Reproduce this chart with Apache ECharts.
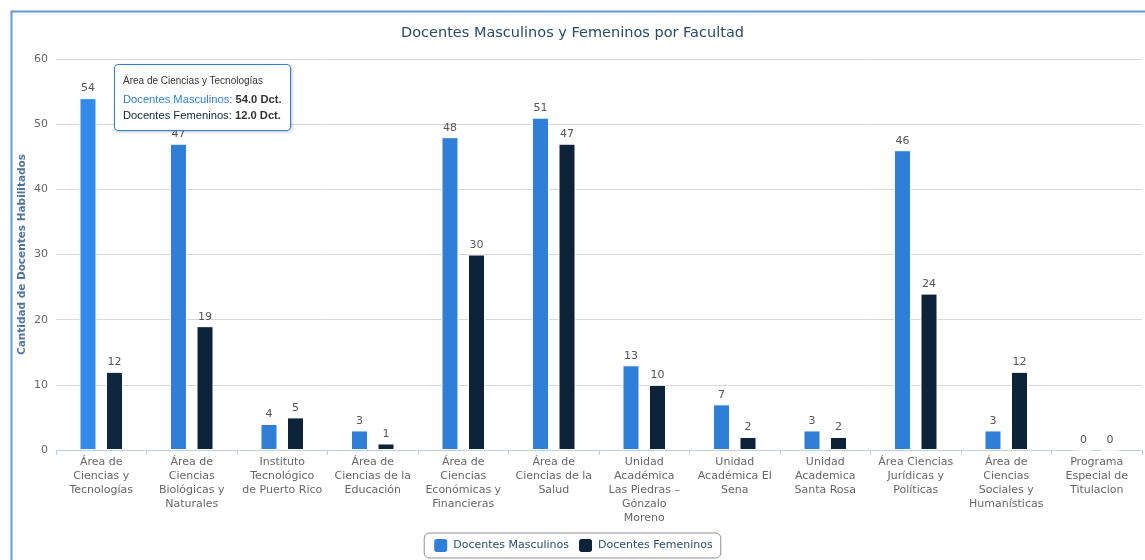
<!DOCTYPE html>
<html>
<head>
<meta charset="utf-8">
<script src="https://cdn.jsdelivr.net/npm/echarts@6/dist/echarts.min.js"></script>
<style>
  html, body { margin: 0; padding: 0; background: #fff; }
  #chart { width: 1145px; height: 560px; }
</style>
</head>
<body>
<div id="chart"></div>
<script>
// Facultades (line breaks follow the axis label wrapping)
const categories = [
  'Área de\nCiencias y\nTecnologías',
  'Área de\nCiencias\nBiológicas y\nNaturales',
  'Instituto\nTecnológico\nde Puerto Rico',
  'Área de\nCiencias de la\nEducación',
  'Área de\nCiencias\nEconómicas y\nFinancieras',
  'Área de\nCiencias de la\nSalud',
  'Unidad\nAcadémica\nLas Piedras –\nGónzalo\nMoreno',
  'Unidad\nAcadémica El\nSena',
  'Unidad\nAcademica\nSanta Rosa',
  'Área Ciencias\nJurídicas y\nPolíticas',
  'Área de\nCiencias\nSociales y\nHumanísticas',
  'Programa\nEspecial de\nTitulacion'
];
const masculinos = [54, 47, 4, 3, 48, 51, 13, 7, 3, 46, 3, 0];
const femeninos  = [12, 19, 5, 1, 30, 47, 10, 2, 2, 24, 12, 0];
const yTicks = [0, 10, 20, 30, 40, 50, 60];

const BLUE = '#2f7ed8';
const DARK = '#0d233a';
const FONT = '"DejaVu Sans", Verdana, sans-serif';
const TIP_FONT = '\'Liberation Sans\', Arial, sans-serif';

const chart = echarts.init(document.getElementById('chart'));

const labelStyle = {
  show: true,
  position: 'top',
  distance: 4,
  color: '#555',
  fontSize: 11,
  fontFamily: FONT
};

chart.setOption({
  animation: false,
  backgroundColor: '#fff',
  graphic: [{
    type: 'rect',
    left: 9, top: 9,
    shape: { width: 1300, height: 700 },
    style: { fill: 'none', stroke: '#5f9ad6', lineWidth: 2 },
    silent: true,
    z: -1
  }],
  title: {
    text: 'Docentes Masculinos y Femeninos por Facultad',
    left: 'center',
    top: 21,
    textStyle: { color: '#274b6d', fontSize: 14.5, fontWeight: 'normal', fontFamily: FONT }
  },
  legend: {
    bottom: 2,
    left: 'center',
    itemWidth: 15,
    itemHeight: 15,
    itemGap: 8,
    padding: [4, 8, 4, 8],
    borderColor: '#909090',
    borderWidth: 1,
    borderRadius: 5,
    icon: 'roundRect',
    textStyle: { color: '#274b6d', fontSize: 11, fontFamily: FONT },
    data: ['Docentes Masculinos', 'Docentes Femeninos']
  },
  tooltip: {
    trigger: 'axis',
    alwaysShowContent: true,
    axisPointer: { type: 'none' },
    position: [114, 64],
    backgroundColor: 'rgba(255,255,255,0.96)',
    borderColor: BLUE,
    borderWidth: 1,
    padding: [8, 8, 7, 8],
    extraCssText: 'border-radius:4px;box-shadow:1px 1px 3px rgba(0,0,0,0.25);',
    transitionDuration: 0,
    formatter: function (params) {
      const head = params[0].name.replace(/\n/g, ' ');
      let html = '<div style="font-family:' + TIP_FONT + ';font-size:10px;color:#333;line-height:16px;margin-bottom:2px">' + head + '</div>';
      params.forEach(function (p) {
        html += '<div style="font-family:' + TIP_FONT + ';font-size:11.2px;line-height:16px;">' +
          '<span style="color:' + p.color + '">' + p.seriesName + ':</span> ' +
          '<b style="color:#333">' + p.value.toFixed(1) + ' Dct.</b></div>';
      });
      return html;
    }
  },
  grid: { left: 56, right: 3, top: 59, bottom: 110, containLabel: false },
  xAxis: {
    type: 'category',
    data: categories,
    axisLine: { lineStyle: { color: '#C0D0E0' } },
    axisTick: { show: true, length: 5, lineStyle: { color: '#C0D0E0' } },
    axisLabel: {
      color: '#666',
      fontSize: 11,
      fontFamily: FONT,
      lineHeight: 14,
      margin: 5,
      interval: 0
    }
  },
  yAxis: {
    type: 'value',
    min: yTicks[0],
    max: yTicks[yTicks.length - 1],
    interval: 10,
    name: 'Cantidad de Docentes Habilitados',
    nameLocation: 'middle',
    nameGap: 28,
    nameMoveOverlap: false,
    nameTextStyle: { color: '#4d759e', fontSize: 10.5, fontWeight: 'bold', fontFamily: FONT },
    axisLine: { show: false },
    axisTick: { show: false },
    axisLabel: { color: '#666', fontSize: 11, fontFamily: FONT, margin: 8 },
    splitLine: { lineStyle: { color: '#D8D8D8' } }
  },
  series: [
    {
      name: 'Docentes Masculinos',
      type: 'bar',
      data: masculinos,
      barWidth: 17,
      barGap: '56%',
      itemStyle: { color: BLUE, borderColor: '#fff', borderWidth: 1 },
      label: labelStyle
    },
    {
      name: 'Docentes Femeninos',
      type: 'bar',
      data: femeninos,
      barWidth: 17,
      itemStyle: { color: DARK, borderColor: '#fff', borderWidth: 1 },
      label: labelStyle
    }
  ]
});

chart.dispatchAction({ type: 'showTip', seriesIndex: 0, dataIndex: 0 });
</script>
</body>
</html>
